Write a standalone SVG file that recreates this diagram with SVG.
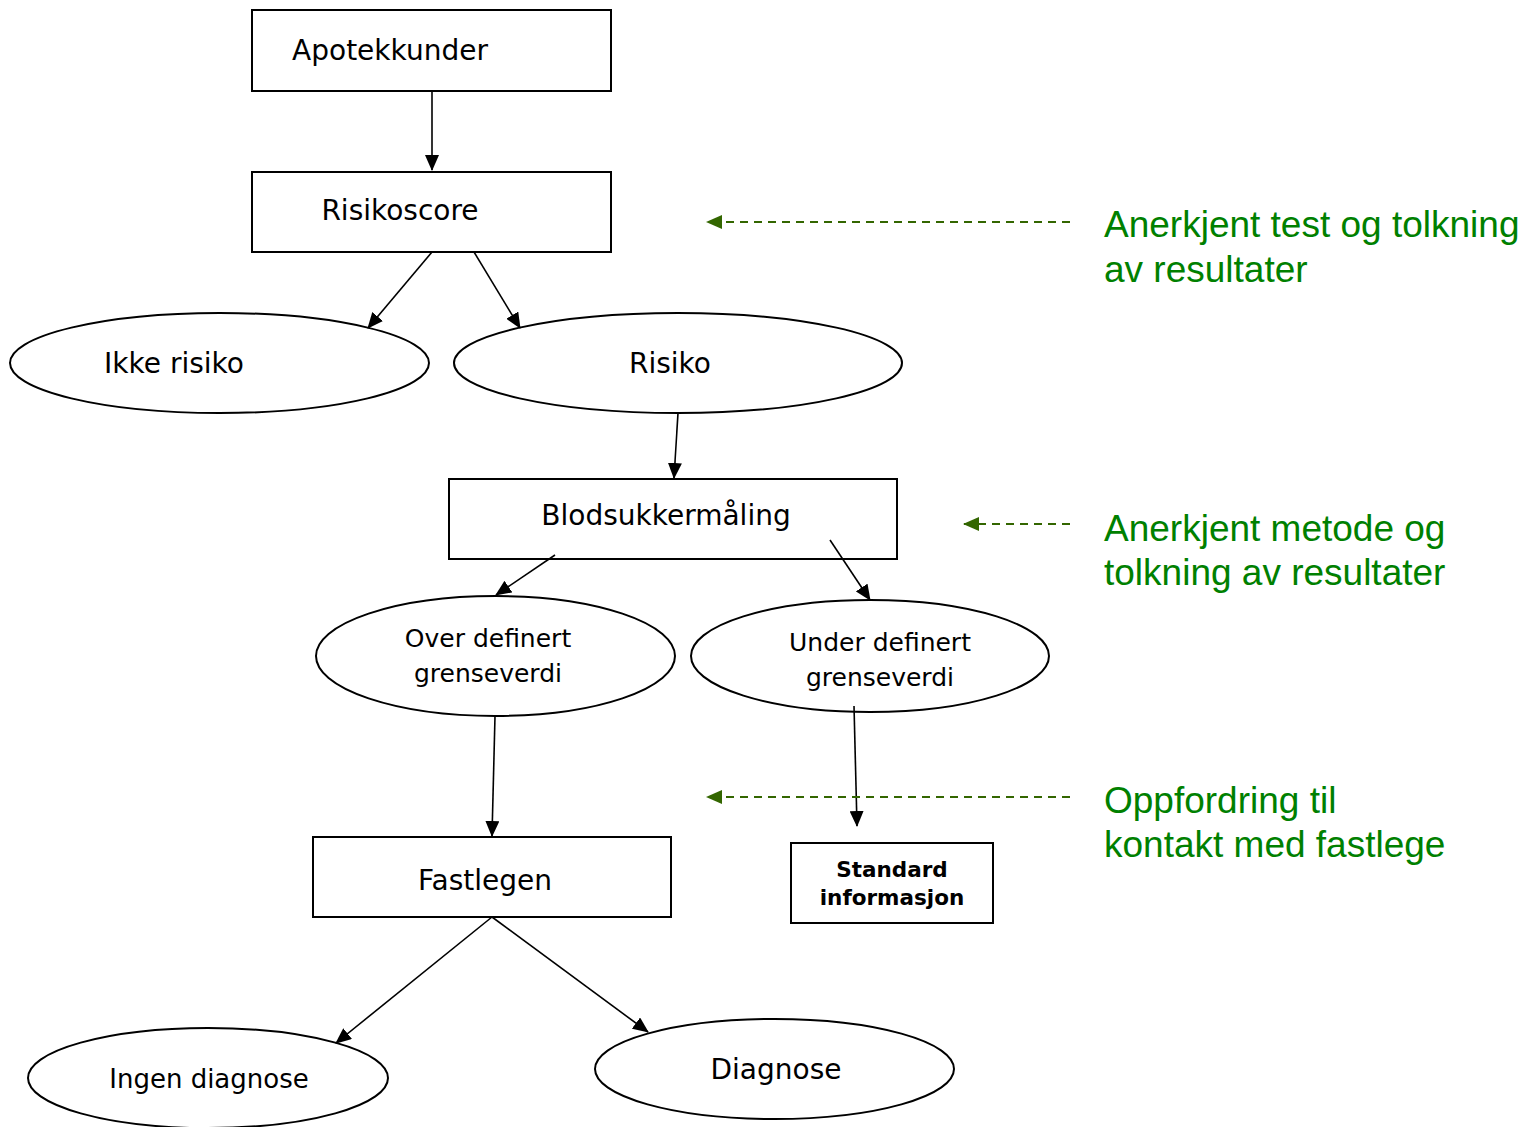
<svg xmlns="http://www.w3.org/2000/svg" width="1524" height="1127" viewBox="0 0 1524 1127">
<defs>
<marker id="ah" markerWidth="16" markerHeight="14" refX="15" refY="7" orient="auto" markerUnits="userSpaceOnUse" viewBox="0 0 16 14">
<path d="M0,0 L16,7 L0,14 z" fill="#000"/>
</marker>
<marker id="gh" markerWidth="16" markerHeight="14" refX="15" refY="7" orient="auto" markerUnits="userSpaceOnUse" viewBox="0 0 16 14">
<path d="M0,0 L16,7 L0,14 z" fill="#336600"/>
</marker>
<style>
.box{fill:#fff;stroke:#000;stroke-width:2}
.t{font-family:"DejaVu Sans",Verdana,sans-serif;font-size:28px;fill:#000;text-anchor:middle}
.ts{font-family:"DejaVu Sans",Verdana,sans-serif;font-size:25px;fill:#000;text-anchor:middle}
.tb{font-family:"DejaVu Sans",Verdana,sans-serif;font-size:21.5px;font-weight:bold;fill:#000;text-anchor:middle}
.g{font-family:"Liberation Sans",Arial,sans-serif;font-size:37px;fill:#008000}
.cl{stroke:#000;stroke-width:1.6;fill:none}
.d{stroke:#336600;stroke-width:2;stroke-dasharray:8,6;fill:none}
</style>
</defs>
<rect width="1524" height="1127" fill="#fff"/>
<g id="apotekkunder"><rect class="box" x="252" y="10" width="359" height="81"/><text class="t" x="390" y="60">Apotekkunder</text></g>
<g id="risikoscore"><rect class="box" x="252" y="172" width="359" height="80"/><text class="t" x="400" y="220">Risikoscore</text></g>
<g id="ikke-risiko"><ellipse class="box" cx="219.5" cy="363" rx="209.5" ry="50"/><text class="t" x="174" y="373">Ikke risiko</text></g>
<g id="risiko"><ellipse class="box" cx="678" cy="363" rx="224" ry="50"/><text class="t" x="670" y="373">Risiko</text></g>
<g id="blodsukkermaling"><rect class="box" x="449" y="479" width="448" height="80"/><text class="t" x="666" y="525">Blodsukkermåling</text></g>
<g id="over"><ellipse class="box" cx="495.5" cy="656" rx="179.5" ry="60"/><text class="ts" x="488" y="647">Over definert</text><text class="ts" x="488" y="682">grenseverdi</text></g>
<g id="under"><ellipse class="box" cx="870" cy="656" rx="179" ry="56"/><text class="ts" x="880" y="651">Under definert</text><text class="ts" x="880" y="686">grenseverdi</text></g>
<g id="fastlegen"><rect class="box" x="313" y="837" width="358" height="80"/><text class="t" x="485" y="890">Fastlegen</text></g>
<g id="standard"><rect class="box" x="791" y="843" width="202" height="80"/><text class="tb" x="892" y="877">Standard</text><text class="tb" x="892" y="905">informasjon</text></g>
<g id="ingen-diagnose"><ellipse class="box" cx="208" cy="1078" rx="180" ry="50"/><text class="t" x="209" y="1088" style="font-size:26px">Ingen diagnose</text></g>
<g id="diagnose"><ellipse class="box" cx="774.5" cy="1069" rx="179.5" ry="50"/><text class="t" x="776" y="1079">Diagnose</text></g>
<g id="connectors">
<line class="cl" x1="432" y1="91" x2="432" y2="170" marker-end="url(#ah)"/>
<line class="cl" x1="432" y1="252" x2="368" y2="328" marker-end="url(#ah)"/>
<line class="cl" x1="474" y1="252" x2="520" y2="328" marker-end="url(#ah)"/>
<line class="cl" x1="678" y1="413" x2="674" y2="478" marker-end="url(#ah)"/>
<line class="cl" x1="555" y1="555" x2="496" y2="595" marker-end="url(#ah)"/>
<line class="cl" x1="830" y1="540" x2="870" y2="600" marker-end="url(#ah)"/>
<line class="cl" x1="495" y1="716" x2="492" y2="836" marker-end="url(#ah)"/>
<line class="cl" x1="854" y1="706" x2="857" y2="826" marker-end="url(#ah)"/>
<line class="cl" x1="492" y1="917" x2="336" y2="1043" marker-end="url(#ah)"/>
<line class="cl" x1="492" y1="917" x2="648" y2="1032" marker-end="url(#ah)"/>
<line class="d" x1="1070" y1="222" x2="707" y2="222" marker-end="url(#gh)"/>
<line class="d" x1="1070" y1="524" x2="964" y2="524" marker-end="url(#gh)"/>
<line class="d" x1="1070" y1="797" x2="707" y2="797" marker-end="url(#gh)"/>
</g>
<g id="notes">
<text class="g" x="1104" y="237">Anerkjent test og tolkning</text>
<text class="g" x="1104" y="282">av resultater</text>
<text class="g" x="1104" y="541">Anerkjent metode og</text>
<text class="g" x="1104" y="585">tolkning av resultater</text>
<text class="g" x="1104" y="813">Oppfordring til</text>
<text class="g" x="1104" y="857">kontakt med fastlege</text>
</g>
</svg>
